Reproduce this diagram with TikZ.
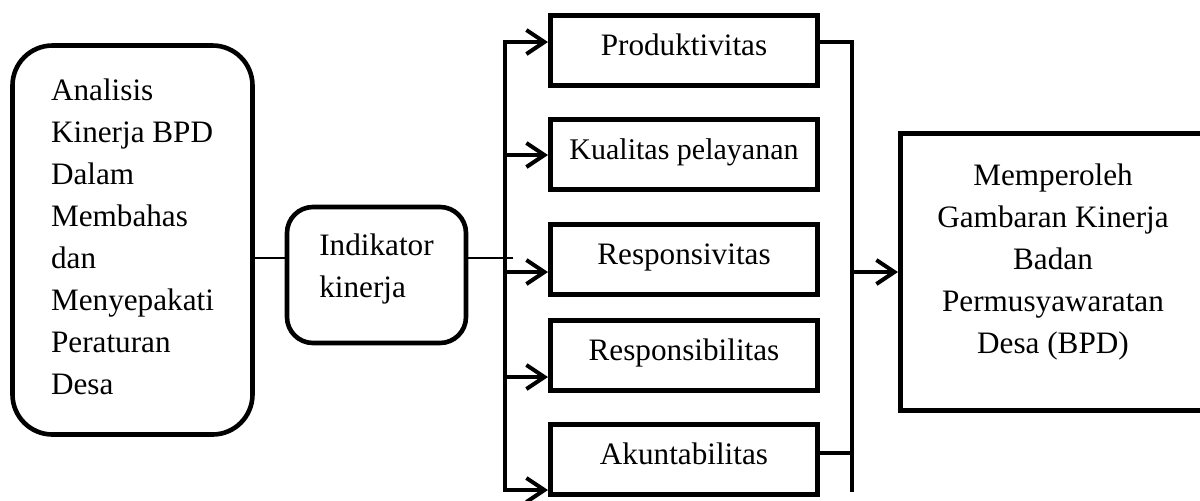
\documentclass[tikz,border=0pt]{standalone}
\usepackage{fontspec}
\setmainfont{Liberation Serif}
\usetikzlibrary{arrows.meta}

\tikzset{
  kotak/.style={draw, line width=2.5pt, inner sep=0pt, font=\fontsize{15.6}{21}\selectfont},
  bulat/.style={kotak, line width=2.3pt, rounded corners=20pt},
  indikator/.style={kotak, minimum width=133.5pt, text height=19.75pt, text depth=15.25pt},
  garis/.style={line width=2pt},
  panah/.style={garis, -{Straight Barb[length=9pt,width=12pt]}}
}

\begin{document}
\begin{tikzpicture}[x=0.5pt, y=-0.5pt]
    \useasboundingbox (0,0) rectangle (1200,500);

    \node[bulat, minimum width=120pt, text height=27.25pt, text depth=167.25pt] (analisis) at (132.5,240)
        {\begin{tabular}[t]{@{}l@{}}Analisis\\Kinerja BPD\\Dalam\\Membahas\\dan\\Menyepakati\\Peraturan\\Desa\end{tabular}};

    \node[bulat, rounded corners=13pt, minimum width=89.5pt, text height=24.25pt, text depth=43.75pt] (indikator) at (376.5,275)
        {\begin{tabular}[t]{@{}l@{}}Indikator\\kinerja\end{tabular}};

    \node[indikator] (prod) at (684,50.5) {Produktivitas};
    \node[indikator, font=\fontsize{15}{21}\selectfont] (kual) at (684,154.5) {Kualitas pelayanan};
    \node[indikator] (resv) at (684,259.5) {Responsivitas};
    \node[indikator] (resb) at (684,355.5) {Responsibilitas};
    \node[indikator] (akun) at (684,459.5) {Akuntabilitas};

    \node[kotak, minimum width=152.5pt, text height=26pt, text depth=112.5pt] (hasil) at (1053,272)
        {\begin{tabular}[t]{@{}c@{}}Memperoleh\\Gambaran Kinerja\\Badan\\Permusyawaratan\\Desa (BPD)\end{tabular}};

    \coordinate (cabang) at (513,258);
    \draw[line width=1pt] (analisis.east |- cabang) -- (indikator.west |- cabang);
    \draw[line width=1pt] (indikator.east |- cabang) -- (cabang);

    % bus kiri ke kelima indikator
    \draw[garis, line cap=rect] (505,42) -- (505,490);
    \foreach \nama/\y in {prod/42, kual/155, resv/272, resb/377, akun/490}{
        \coordinate (k) at (505,\y);
        \draw[panah] (k) -- (\nama.west |- k);
    }

    % bus kanan ke hasil
    \coordinate (atas) at (852,42);
    \coordinate (bawah) at (852,492);
    \coordinate (akunkanan) at (852,453);
    \draw[garis] (prod.east |- atas) -- (atas) -- (bawah);
    \draw[garis] (akun.east |- akunkanan) -- (akunkanan);
    \draw[panah] (atas |- hasil.west) -- (hasil.west);
\end{tikzpicture}
\end{document}
